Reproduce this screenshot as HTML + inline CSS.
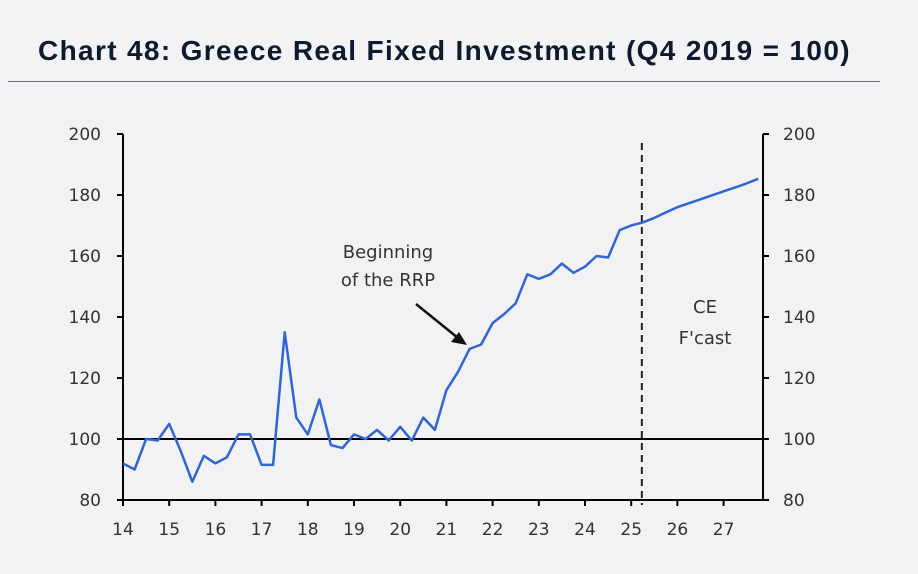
<!DOCTYPE html>
<html><head><meta charset="utf-8">
<style>
html,body{margin:0;padding:0;background:#f3f3f5;width:918px;height:574px;overflow:hidden;font-family:"Liberation Sans",sans-serif}
#title{position:absolute;left:38px;top:35px;font-size:28px;font-weight:bold;color:#0e1a2d;white-space:nowrap;letter-spacing:1.35px}
#rule{position:absolute;left:8px;top:81px;width:872px;height:1px;background:#6e6e7a}
#panel{position:absolute;left:8px;top:83px;width:872px;height:491px;background:#f2f2f5}
svg{position:absolute;left:0;top:0}
svg text{font-family:"DejaVu Sans",sans-serif}
</style></head><body>
<div id="title">Chart 48: Greece Real Fixed Investment (Q4 2019 = 100)</div>
<div id="rule"></div>
<div id="panel"></div>
<svg id="chart" width="918" height="574"></svg>
<script>
const yearTicks=[14,15,16,17,18,19,20,21,22,23,24,25,26,27];
const yTicks=[80,100,120,140,160,180,200];
const histValues=[92,90,100,99.5,105,96,86,94.5,92,94,101.5,101.5,91.5,91.5,135,107,101.5,113,98,97,101.5,100,103,99.5,104,99.5,107,103,116,122,129.5,131,138,141,144.5,154,152.5,154,157.5,154.5,156.5,160,159.5,168.5,170,171];
const fcValues=[172.5,174.3,176,177.3,178.6,179.9,181.2,182.5,183.8,185.3];
const startYear=14;
const forecastLine=25.23;
const ns="http://www.w3.org/2000/svg";
const svg=document.getElementById('chart');
const X=t=>123+(t-14)*46.2;
const Y=v=>500-(v-80)*3.05;
function mk(tag,attrs){const e=document.createElementNS(ns,tag);for(const k in attrs)e.setAttribute(k,attrs[k]);svg.appendChild(e);return e;}
const xR=763;
let e=mk('line',{x1:123,y1:Y(200),x2:123,y2:Y(80),stroke:'#000','stroke-width':2});

e=mk('line',{x1:xR,y1:Y(200),x2:xR,y2:Y(80),stroke:'#000','stroke-width':2});

e=mk('line',{x1:123,y1:Y(80),x2:xR,y2:Y(80),stroke:'#000','stroke-width':2});

e=mk('line',{x1:123,y1:Y(100),x2:xR,y2:Y(100),stroke:'#000','stroke-width':2});

yTicks.forEach(v=>{
 let t=mk('line',{x1:117,y1:Y(v),x2:123,y2:Y(v),stroke:'#000','stroke-width':2});
 
 t=mk('line',{x1:xR,y1:Y(v),x2:xR+6,y2:Y(v),stroke:'#000','stroke-width':2});
 
 let l=mk('text',{x:101,y:Y(v)+6,'text-anchor':'end','font-size':17,fill:'#333'});l.textContent=v;
 
 l=mk('text',{x:783,y:Y(v)+6,'font-size':17,fill:'#333'});l.textContent=v;
 
});
yearTicks.forEach(yr=>{
 let t=mk('line',{x1:X(yr),y1:Y(80),x2:X(yr),y2:Y(80)+6,stroke:'#000','stroke-width':2});
 
 let l=mk('text',{x:X(yr),y:535,'text-anchor':'middle','font-size':17,fill:'#333'});l.textContent=yr;
 
});
e=mk('line',{x1:X(forecastLine),y1:143,x2:X(forecastLine),y2:505,stroke:'#222','stroke-width':2,'stroke-dasharray':'7,5'});

const all=histValues.concat(fcValues);
const pts=all.map((v,i)=>X(startYear+i/4).toFixed(1)+','+Y(v).toFixed(1)).join(' ');
e=mk('polyline',{points:pts,fill:'none',stroke:'#2f66d4','stroke-width':2.5,'stroke-linejoin':'round'});

e=mk('text',{x:388,y:258,'text-anchor':'middle','font-size':18,fill:'#333'});e.textContent='Beginning';

e=mk('text',{x:388,y:286,'text-anchor':'middle','font-size':18,fill:'#333'});e.textContent='of the RRP';

e=mk('line',{x1:416,y1:304,x2:458,y2:338,stroke:'#111','stroke-width':2.5});

e=mk('polygon',{points:'467,345 451,342 459,332',fill:'#111'});

e=mk('text',{x:705,y:313,'text-anchor':'middle','font-size':18,fill:'#333'});e.textContent='CE';

e=mk('text',{x:705,y:344,'text-anchor':'middle','font-size':18,fill:'#333'});e.textContent="F'cast";

</script>
</body></html>
